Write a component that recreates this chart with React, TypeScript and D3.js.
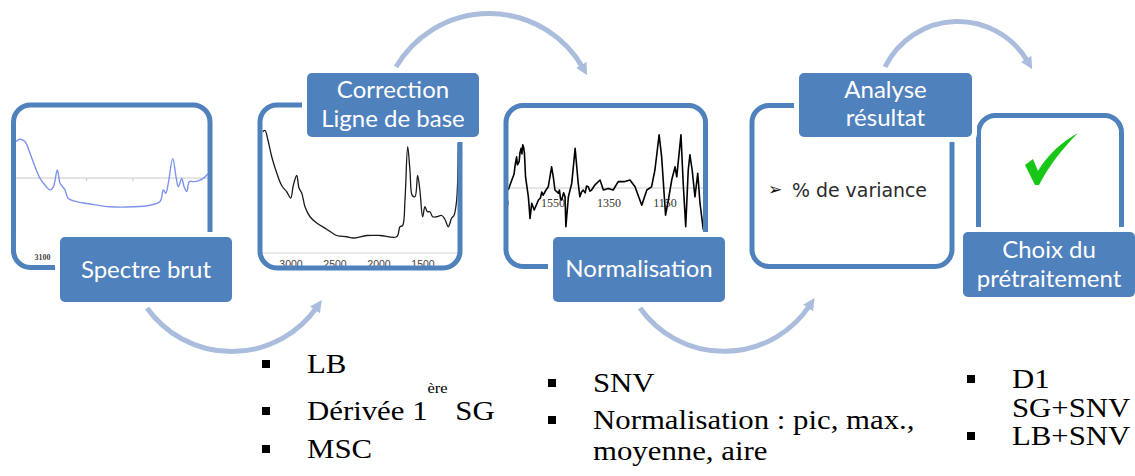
import React from 'react';
import * as d3 from 'd3';

const W = 1135;
const H = 476;

// titles of the five steps
const stepTitles: string[][] = [
  ['Spectre brut'],
  ['Correction', 'Ligne de base'],
  ['Normalisation'],
  ['Analyse', 'résultat'],
  ['Choix du', 'prétraitement'],
];

// raw spectrum, [wavenumber, absorbance]
const rawSpectrum: [number, number][] = [
  [3525, 0.91], [3466, 0.97], [3391, 0.91], [3316, 0.62], [3242, 0.28], [3167, -0.01],
  [3092, -0.18], [3018, -0.3], [2968, -0.22], [2909, 0.2], [2868, -0.13], [2828, -0.22],
  [2794, -0.3], [2745, -0.51], [2619, -0.59], [2420, -0.65], [2122, -0.72], [1774, -0.72],
  [1525, -0.68], [1376, -0.59], [1326, -0.3], [1290, -0.38], [1252, -0.13], [1186, 0.49],
  [1137, 0.03], [1102, -0.22], [1051, -0.01], [1017, -0.22], [977, -0.34], [938, -0.09],
  [878, -0.09], [804, -0.07], [729, -0.01], [654, 0.1], [619, -0.01],
];
const rawTickLabels = [3100];
const rawTickMarks = [2470, 1780];

// baseline corrected spectrum
const baselineSpectrum: [number, number][] = [
  [3321, 0.97], [3295, 0.98], [3261, 0.9], [3219, 0.77], [3162, 0.64], [3106, 0.54],
  [3049, 0.49], [3003, 0.44], [2974, 0.54], [2935, 0.62], [2909, 0.52], [2878, 0.48],
  [2841, 0.37], [2784, 0.29], [2708, 0.24], [2594, 0.19], [2481, 0.14], [2367, 0.13],
  [2292, 0.12], [2140, 0.14], [1989, 0.14], [1799, 0.13], [1762, 0.21], [1731, 0.22],
  [1705, 0.42], [1674, 0.85], [1648, 0.66], [1622, 0.46], [1591, 0.45], [1561, 0.62],
  [1535, 0.5], [1504, 0.29], [1478, 0.37], [1451, 0.33], [1421, 0.33], [1390, 0.29],
  [1345, 0.29], [1288, 0.3], [1251, 0.27], [1213, 0.21], [1174, 0.28], [1148, 0.3],
  [1118, 0.42], [1099, 0.88],
];
const baselineTicks = [3000, 2500, 2000, 1500];

// normalised spectrum
const normSpectrum: [number, number][] = [
  [1710, -0.05], [1697, 0.2], [1689, 0.35], [1686, 0.53], [1684, 0.62], [1680, 0.78],
  [1677, 0.58], [1671, 0.66], [1668, 0.88], [1664, 0.99], [1661, 0.85], [1658, 1.08],
  [1655, 1.02], [1652, 0.87], [1648, 0.28], [1638, -0.22], [1632, -0.76], [1626, -0.38],
  [1617, -0.55], [1602, -0.3], [1595, -0.25], [1590, -0.1], [1585, -0.18], [1575, -0.05],
  [1567, 0.03], [1555, 0.53], [1549, 0.28], [1543, -0.05], [1531, -0.13], [1527, -0.05],
  [1523, -0.28], [1519, -0.3], [1512, -0.12], [1507, -0.22], [1504, -0.97], [1495, -0.22],
  [1483, 0.12], [1471, 0.99], [1460, 0.12], [1454, -0.22], [1448, -0.1], [1442, -0.05],
  [1435, -0.12], [1430, 0.05], [1424, 0.03], [1418, -0.08], [1412, -0.05], [1400, 0.08],
  [1382, 0.2], [1370, -0.05], [1353, -0.01], [1335, -0.05], [1317, 0.16], [1293, 0.16],
  [1275, 0.2], [1257, 0.03], [1233, -0.43], [1215, -0.05], [1198, 0.03], [1186, 0.45],
  [1171, 1.33], [1162, 0.78], [1148, -0.68], [1138, -0.3], [1126, 0.2], [1114, 0.53],
  [1108, 0.28], [1093, 1.33], [1085, 0.12], [1076, -0.97], [1067, 0.45], [1061, 0.83],
  [1053, 0.45], [1043, -0.22], [1033, 0.37], [1025, -0.38], [1013, -1.05],
];
const normTicks = [1750, 1550, 1350, 1150];

const resultText = '% de variance';

// bullet lists under the steps ("^" marks a superscript)
const listPretraitement = [['LB'], ['Dérivée 1^ère^ SG'], ['MSC']];
const listNormalisation = [['SNV'], ['Normalisation : pic, max.,', 'moyenne, aire']];
const listChoix = [['D1', 'SG+SNV'], ['LB+SNV']];

const BLUE = '#4F81BD';
const ARROW = '#ABBDDD';

const frames = [
  { x: 13.5, y: 105, w: 196.5, h: 162.5 },
  { x: 260, y: 105, w: 200, h: 163 },
  { x: 506, y: 105.5, w: 199.5, h: 161 },
  { x: 752, y: 105.5, w: 200, h: 161 },
  { x: 978.5, y: 115.5, w: 143, h: 150 },
];
const boxes = [
  { x: 60, y: 237, w: 172, h: 65, base: [278] },
  { x: 307, y: 73, w: 172, h: 64, base: [98, 127] },
  { x: 553, y: 237, w: 172, h: 65, base: [277] },
  { x: 799, y: 73, w: 173, h: 64, base: [98, 126] },
  { x: 963, y: 232, w: 172, h: 65, base: [258, 287] },
];
const arcs = [
  { x1: 147, y1: 308, x2: 317, y2: 307, r: 104, sweep: 0 },
  { x1: 396, y1: 67, x2: 583, y2: 68, r: 108, sweep: 1 },
  { x1: 640, y1: 308, x2: 810, y2: 305, r: 103, sweep: 0 },
  { x1: 885, y1: 67, x2: 1028, y2: 62, r: 81, sweep: 1 },
];

const BulletList = ({ items, x, bx, baselines }: { items: string[][]; x: number; bx: number; baselines: number[] }) => {
  let k = 0;
  const out: React.ReactNode[] = [];
  items.forEach((lines, i) => {
    lines.forEach((line, j) => {
      const y = baselines[k++];
      if (j === 0) out.push(<rect key={`b${i}`} x={bx} y={y - 13} width={8} height={8} fill="#000" />);
      const parts = line.split('^');
      out.push(
        <text key={`t${i}-${j}`} transform={`translate(${x},${y}) scale(1.1,1)`} fontFamily="'Liberation Serif', 'Times New Roman', serif" fontSize={28} fill="#000">
          {parts.length === 1 ? line : (
            <>
              <tspan>{parts[0]}</tspan>
              <tspan fontSize={15} dy={-27}>{parts[1]}</tspan>
              <tspan dy={27}>{parts[2]}</tspan>
            </>
          )}
        </text>
      );
    });
  });
  return <g>{out}</g>;
};

export default function App() {
  // frame 1 scales
  const x1 = d3.scaleLinear().domain([3600, 600]).range([11, 212]);
  const y1 = d3.scaleLinear().domain([-1, 1]).range([218, 138]);
  // frame 2 scales
  const x2 = d3.scaleLinear().domain([3000, 1500]).range([291, 423]);
  const y2 = d3.scaleLinear().domain([0, 1]).range([253, 128]);
  // frame 3 scales
  const x3 = d3.scaleLinear().domain([1550, 1150]).range([553, 665]);
  const y3 = d3.scaleLinear().domain([-1, 1]).range([228, 148]);

  const line1 = d3.line<[number, number]>().x(d => x1(d[0])).y(d => y1(d[1])).curve(d3.curveCatmullRom);
  const line2 = d3.line<[number, number]>().x(d => x2(d[0])).y(d => y2(d[1])).curve(d3.curveCatmullRom);
  const line3 = d3.line<[number, number]>().x(d => x3(d[0])).y(d => y3(d[1]));

  const f = frames;

  return (
    <svg width={W} height={H} style={{ position: 'absolute', left: 0, top: 0, background: '#fff' }}>
      <defs>
        <marker id="ah" viewBox="0 0 10 10" refX="3" refY="5" markerWidth="12" markerHeight="12" markerUnits="userSpaceOnUse" orient="auto">
          <path d="M0,0 L10,5 L0,10 z" fill={ARROW} />
        </marker>
        {f.map((fr, i) => (
          <clipPath key={i} id={`clip${i}`}>
            <rect x={fr.x} y={fr.y} width={fr.w} height={fr.h} rx={17} />
          </clipPath>
        ))}
      </defs>

      {/* arrows between steps */}
      {arcs.map((a, i) => (
        <path key={i} d={`M${a.x1},${a.y1} A${a.r},${a.r} 0 0 ${a.sweep} ${a.x2},${a.y2}`} fill="none" stroke={ARROW} strokeWidth={5} markerEnd="url(#ah)" />
      ))}

      {/* frames */}
      {f.map((fr, i) => (
        <rect key={i} x={fr.x} y={fr.y} width={fr.w} height={fr.h} rx={17} fill="#fff" />
      ))}

      {/* raw spectrum */}
      <g clipPath="url(#clip0)">
        <line x1={16} x2={210} y1={y1(0)} y2={y1(0)} stroke="#c8c8c8" strokeWidth={1} />
        {rawTickMarks.map(t => (
          <line key={t} x1={x1(t)} x2={x1(t)} y1={y1(0)} y2={y1(0) + 3} stroke="#c8c8c8" />
        ))}
        <path d={line1(rawSpectrum) || ''} fill="none" stroke="#7D93EE" strokeWidth={1.4} />
        {rawTickLabels.map(t => (
          <text key={t} x={x1(t) - 2} y={260} textAnchor="middle" fontFamily="'Liberation Serif', serif" fontSize={8} fontWeight="bold" fill="#444">{t}</text>
        ))}
      </g>

      {/* baseline corrected spectrum */}
      <g clipPath="url(#clip1)">
        <line x1={262} x2={460} y1={y2(0)} y2={y2(0)} stroke="#d4d4d4" strokeWidth={1} />
        <path d={line2(baselineSpectrum) || ''} fill="none" stroke="#1a1a1a" strokeWidth={1.3} />
        {baselineTicks.map(t => (
          <text key={t} x={x2(t)} y={268} textAnchor="middle" fontFamily="'Liberation Sans', Arial, sans-serif" fontSize={10.5} fill="#444">{t}</text>
        ))}
      </g>

      {/* normalised spectrum */}
      <g clipPath="url(#clip2)">
        <line x1={506} x2={706} y1={y3(0)} y2={y3(0)} stroke="#cccccc" strokeWidth={1.2} />
        {normTicks.map(t => (
          <text key={t} x={x3(t)} y={207} textAnchor="middle" fontFamily="'Liberation Serif', serif" fontSize={12} fill="#333">{t}</text>
        ))}
        <path d={line3(normSpectrum) || ''} fill="none" stroke="#000" strokeWidth={1.6} strokeLinejoin="round" />
      </g>

      {/* result text */}
      <text x={768} y={195} fontFamily="'DejaVu Sans', sans-serif" fontSize={17} fill="#111">➢</text>
      <text x={792} y={196.5} fontFamily="'DejaVu Sans', sans-serif" fontSize={19} fill="#2a2a2a" textLength={135} lengthAdjust="spacingAndGlyphs">{resultText}</text>

      {/* checkmark */}
      <path d="M1025,165 L1033,159 L1038,171 C1048,154 1062,142 1078,133 C1061,150 1049,166 1039,185 L1035,185 Z" fill="#17C617" />

      {/* frame outlines */}
      {f.map((fr, i) => (
        <rect key={i} x={fr.x} y={fr.y} width={fr.w} height={fr.h} rx={17} fill="none" stroke={BLUE} strokeWidth={5} />
      ))}

      {/* label boxes */}
      {boxes.map((b, i) => (
        <g key={i}>
          <rect x={b.x - 5} y={b.y - 5} width={b.w + 10} height={b.h + 10} rx={8} fill="#fff" />
          <rect x={b.x} y={b.y} width={b.w} height={b.h} rx={5} fill={BLUE} />
          {stepTitles[i].map((t, j) => (
            <text key={j} x={b.x + b.w / 2} y={b.base[j]} textAnchor="middle" fontFamily="Lato, 'Open Sans', sans-serif" fontSize={24} fill="#fff">{t}</text>
          ))}
        </g>
      ))}

      {/* bullet lists */}
      <BulletList items={listPretraitement} x={307} bx={262} baselines={[373, 420, 458]} />
      <BulletList items={listNormalisation} x={593} bx={548} baselines={[392, 429, 460]} />
      <BulletList items={listChoix} x={1012} bx={967} baselines={[388, 417, 445]} />
    </svg>
  );
}
